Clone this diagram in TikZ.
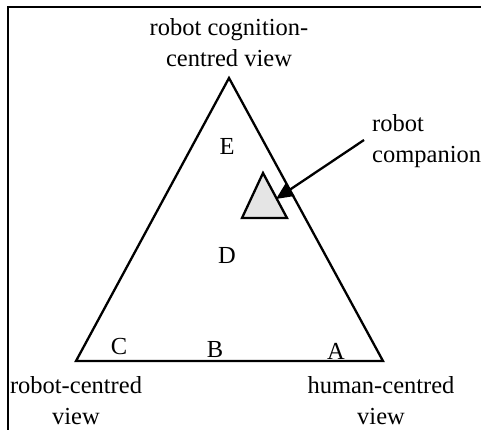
\documentclass[tikz,border=0pt]{standalone}
\usepackage{fontspec}
\setmainfont{Liberation Serif}
\usetikzlibrary{arrows.meta}
\begin{document}
\begin{tikzpicture}[x=1pt,y=-1pt,
  lbl/.style={font=\fontsize{24.5}{31}\selectfont, inner sep=0pt, align=center},
  letter/.style={font=\fontsize{24.5}{31}\selectfont, inner sep=0pt},
  edge/.style={line width=2.3pt, line join=miter},
  pointer/.style={line width=2.3pt, -{Triangle[length=17pt,width=15pt]}}]
\useasboundingbox (0,0) rectangle (481,429);
% frame
\draw[line width=2.5pt] (8,431) -- (8,7) -- (483,7);
% main triangle
\coordinate (top) at (229,78);
\coordinate (bl) at (76,361);
\coordinate (br) at (383,361);
\draw[edge] (top) -- (bl) -- (br) -- cycle;
% small triangle
\coordinate (st) at (263,173);
\coordinate (sl) at (242,218);
\coordinate (sr) at (287,218);
\draw[edge, fill=black!10] (st) -- (sl) -- (sr) -- cycle;
% labels
\node[lbl] (cog) at (229,43) {robot cognition-\\centred view};
\node[lbl, align=left, anchor=west] (comp) at (372,141) {robot\\companion};
\node[lbl] (rcv) at (76,401) {robot-centred\\view};
\node[lbl] (hcv) at (381,401) {human-centred\\view};
\node[letter] (E) at (227,146) {E};
\node[letter] (D) at (227,255) {D};
\node[letter] (C) at (119,346) {C};
\node[letter] (B) at (215,350) {B};
\node[letter] (A) at (336,351) {A};
% arrow
\coordinate (arrs) at (364,140);
\coordinate (arre) at (276,199);
\draw[pointer] (arrs) -- (arre);
\end{tikzpicture}
\end{document}
